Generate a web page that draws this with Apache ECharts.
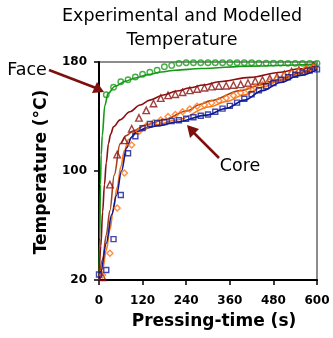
<!DOCTYPE html>
<html><head><meta charset="utf-8">
<script src="https://cdn.jsdelivr.net/npm/echarts@6/dist/echarts.min.js"></script>
<style>html,body{margin:0;padding:0;background:#fff}#c{width:333px;height:338px}</style>
</head><body><div id="c"></div>
<script>
// ---- data ----
const xTicks = [0, 120, 240, 360, 480, 600];
const yTicks = [20, 100, 180];

const faceExpTime = [20,40,60,80,100,120,140,160,180,200,220,240,260,280,300,320,340,360,380,400,420,440,460,480,500,520,540,560,580,600];
const faceExpTemp = [156,161.5,165.5,167,169,171,172.5,174,176.5,177.5,179,179.5,179.5,179.5,179.5,179.5,179.5,179.5,179.5,179.5,179.5,179.2,179.2,179.2,179.2,179,179,179,179,179];

const triTime = [10,30,50,70,90,110,130,150,170,190,210,230,250,270,290,310,330,350,370,390,410,430,450,470,490,510,530,550,570,590];
const triTemp = [22,90,112,122.5,131,139,144.5,149.5,153.5,155.5,156.3,157.8,159.2,160.2,161.1,161.9,162.4,162.6,163.1,163.6,164.6,166.1,166.8,168,169.2,171,172.9,174.1,175.4,177];

const diaTime = [10,30,50,70,90,110,130,150,170,190,210,230,250,270,290,310,330,350,370,390,410,430,450,470,490,510,530,550,570,590];
const diaTemp = [23.7,39.6,72.8,98.5,119,129,133,135.5,137.5,140,141.5,143.5,145.5,147.5,148.5,150,151.5,153.5,155.5,157.5,159.5,161.5,163.5,165.5,167.5,170,171.8,173.3,175,176.3];

const coreExpTime = [0,20,40,60,80,100,120,140,160,180,200,220,240,260,280,300,320,340,360,380,400,420,440,460,480,500,520,540,560,580,600];
const coreExpTemp = [24,27.3,50,82.4,113,125.5,131.5,134.5,135.3,136,136.7,137.3,138.3,139.5,140.5,141.5,143.5,145.8,147.8,150.2,153,156.3,159.3,162.2,164.6,167,168.8,170.6,172.3,173.7,174.6];

const faceModTime = [0,2,4,6,9,16,25,44,72,100,136,172,210,280,415,600];
const faceModTemp = [20,50,90,112,126,148,157,162.2,165.8,168.3,170.7,172.7,174,175.2,177,178.5];

const redModTime = [0,5,10,15,20,26,32,40,58,85,113,140,177,214,250,287,330,416,500,550,600];
const redModTemp = [20,45,70,90,106,120,127,132.5,137.5,143.5,148.4,152,155.8,158.7,161.1,163.1,165.5,168.7,172.5,175,177.5];

const brownModTime = [0,10,20,30,42,58,75,94,131,177,241,280,305,390,450,500,550,600];
const brownModTemp = [20,35,53,71,97,120,126,129.5,134,137.5,144,149,151.5,159,163.5,167,172,177];

const orangeModTime = [0,10,20,30,39,50,60,70,81,104,159,214,305,350,400,450,500,550,600];
const orangeModTemp = [20,28,42,57,71,88,103,115,123,128.5,134,137.4,147.2,151,156,161.5,166.5,171.5,176];

const blueModTime = [0,5,20,35,48,62,76,90,104,130,160,214,296,350,400,450,500,550,600];
const blueModTemp = [20,26,47,68,82,100,117,125,129,131.5,133,136,141,146,152,159,165,170,174.5];

// ---- build ----
const zip = (a, b) => a.map((v, i) => [v, b[i]]);
const C = { green: '#169a16', red: '#8b0f0f', brown: '#a5421a', orange: '#ff7414', blue: '#101a96' };

function lineS(t, v, color) {
  return { type: 'line', data: zip(t, v), showSymbol: false, smooth: 0.35, smoothMonotone: 'x',
    lineStyle: { color, width: 1.6 }, z: 2, silent: true, animation: false };
}
function markS(t, v, color, symbol, size) {
  return { type: 'scatter', data: zip(t, v), symbol, symbolSize: size,
    itemStyle: { color: 'rgba(0,0,0,0)', borderColor: color, borderWidth: 1.4 }, z: 3, animation: false };
}

const chart = echarts.init(document.getElementById('c'), null, { renderer: 'canvas' });
const tickFont = { fontFamily: 'DejaVu Sans', fontWeight: 'bold', fontSize: 12, color: '#000' };
chart.setOption({
  animation: false,
  grid: { left: 99, right: 16, top: 62, bottom: 58, show: true, borderColor: '#8c8c8c', borderWidth: 2, backgroundColor: '#fff' },
  xAxis: { type: 'value', min: xTicks[0], max: xTicks[xTicks.length - 1], interval: xTicks[1] - xTicks[0],
    axisLine: { lineStyle: { color: '#000', width: 2 } },
    axisTick: { show: true, length: 5, lineStyle: { color: '#000', width: 1.5 } },
    axisLabel: Object.assign({ margin: 15 }, tickFont), splitLine: { show: false } },
  yAxis: { type: 'value', min: yTicks[0], max: yTicks[yTicks.length - 1], interval: yTicks[1] - yTicks[0],
    axisLine: { show: true, lineStyle: { color: '#000', width: 2 } },
    axisTick: { show: true, length: 5, lineStyle: { color: '#000', width: 1.5 } },
    axisLabel: Object.assign({ margin: 12 }, tickFont), splitLine: { show: false } },
  series: [
    lineS(faceModTime, faceModTemp, C.green),
    lineS(redModTime, redModTemp, C.red),
    lineS(brownModTime, brownModTemp, C.brown),
    lineS(orangeModTime, orangeModTemp, C.orange),
    lineS(blueModTime, blueModTemp, C.blue),
    markS(faceExpTime, faceExpTemp, C.green, 'circle', 5.5),
    markS(triTime, triTemp, C.red, 'triangle', 6.5),
    markS(diaTime, diaTemp, C.orange, 'diamond', 6),
    markS(coreExpTime, coreExpTemp, C.blue, 'rect', 5)
  ],
  graphic: [
    { type: 'text', x: 182, y: 16, style: { text: 'Experimental and Modelled', font: '17.5px "DejaVu Sans"', fill: '#000', align: 'center', verticalAlign: 'middle' } },
    { type: 'text', x: 182, y: 40, style: { text: 'Temperature', font: '17.5px "DejaVu Sans"', fill: '#000', align: 'center', verticalAlign: 'middle' } },
    { type: 'text', x: 214, y: 322, style: { text: 'Pressing-time (s)', font: 'bold 17px "DejaVu Sans"', fill: '#000', align: 'center', verticalAlign: 'middle' } },
    { type: 'text', x: 42, y: 172, rotation: Math.PI / 2, style: { text: 'Temperature (°C)', font: 'bold 17px "DejaVu Sans"', fill: '#000', align: 'center', verticalAlign: 'middle' } },
    { type: 'text', x: 27, y: 70, style: { text: 'Face', font: '17.5px "DejaVu Sans"', fill: '#000', align: 'center', verticalAlign: 'middle' } },
    { type: 'text', x: 240, y: 166, style: { text: 'Core', font: '17.5px "DejaVu Sans"', fill: '#000', align: 'center', verticalAlign: 'middle' } },
    { type: 'line', shape: { x1: 49, y1: 70, x2: 96, y2: 88 }, style: { stroke: '#7d0f0f', lineWidth: 2.5 }, z: 10 },
    { type: 'polygon', shape: { points: [[104, 92], [92, 93], [97, 82]] }, style: { fill: '#7d0f0f' }, z: 10 },
    { type: 'line', shape: { x1: 219, y1: 158, x2: 193, y2: 132 }, style: { stroke: '#7d0f0f', lineWidth: 2.5 }, z: 10 },
    { type: 'polygon', shape: { points: [[187, 125], [199, 129], [190, 138]] }, style: { fill: '#7d0f0f' }, z: 10 }
  ]
});
</script></body></html>
